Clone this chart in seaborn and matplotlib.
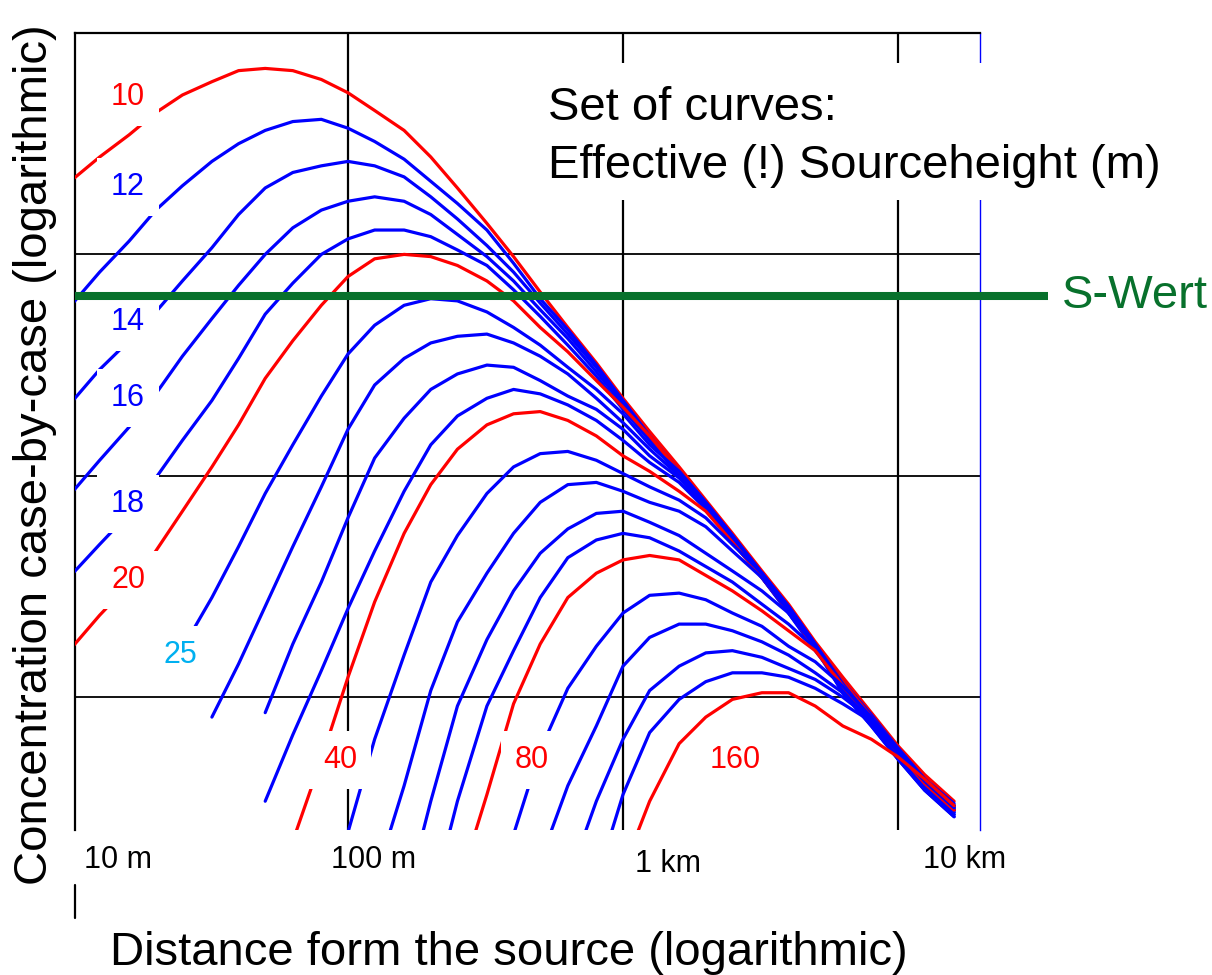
import numpy as np
import pandas as pd
import seaborn as sns
import matplotlib.pyplot as plt
import matplotlib.ticker as mticker
from matplotlib.patches import Rectangle

nan = np.nan

# distance from the source (m), common grid for all curves
dist_m = [10, 12.5, 16, 20, 25, 32, 40, 50, 63, 80, 100, 125, 160, 200, 250, 320,
          400, 500, 630, 800, 1000, 1250, 1600, 2000, 2500, 3200, 4000, 5000,
          6300, 8000, 10000, 12500, 16000]

# log10 concentration (arbitrary units), one list per source height
h10 = [2.34, 2.44, 2.54, 2.64, 2.72, 2.78, 2.83, 2.84, 2.83, 2.79, 2.73, 2.65, 2.56, 2.44, 2.30, 2.14,
       1.99, 1.83, 1.67, 1.51, 1.35, 1.20, 1.04, 0.89, 0.74, 0.57, 0.42, 0.25, 0.09, -0.07, -0.22, -0.35, -0.47]
h12 = [1.78, 1.92, 2.06, 2.20, 2.31, 2.42, 2.50, 2.56, 2.60, 2.61, 2.57, 2.51, 2.43, 2.33, 2.23, 2.11,
       1.96, 1.80, 1.66, 1.50, 1.34, 1.18, 1.02, 0.88, 0.73, 0.56, 0.40, 0.23, 0.07, -0.08, -0.23, -0.37, -0.49]
h14 = [1.34, 1.48, 1.61, 1.74, 1.88, 2.03, 2.18, 2.30, 2.37, 2.40, 2.42, 2.40, 2.35, 2.26, 2.16, 2.04,
       1.92, 1.78, 1.64, 1.49, 1.33, 1.17, 1.02, 0.87, 0.72, 0.55, 0.39, 0.23, 0.06, -0.09, -0.24, -0.38, -0.50]
h16 = [0.93, 1.07, 1.22, 1.37, 1.54, 1.71, 1.86, 2.00, 2.12, 2.20, 2.24, 2.26, 2.24, 2.18, 2.09, 1.99,
       1.88, 1.75, 1.62, 1.47, 1.32, 1.16, 1.01, 0.86, 0.71, 0.54, 0.38, 0.22, 0.05, -0.10, -0.25, -0.38, -0.51]
h18 = [0.56, 0.69, 0.83, 0.99, 1.16, 1.34, 1.53, 1.73, 1.87, 2.00, 2.07, 2.11, 2.11, 2.08, 2.02, 1.95,
       1.84, 1.72, 1.59, 1.45, 1.30, 1.16, 1.00, 0.85, 0.70, 0.54, 0.38, 0.21, 0.05, -0.10, -0.25, -0.39, -0.51]
h20 = [0.23, 0.37, 0.51, 0.66, 0.84, 1.04, 1.23, 1.44, 1.61, 1.77, 1.90, 1.98, 2.00, 1.99, 1.95, 1.88,
       1.79, 1.67, 1.56, 1.43, 1.31, 1.18, 1.02, 0.87, 0.72, 0.56, 0.40, 0.23, 0.07, -0.09, -0.23, -0.37, -0.49]
h22 = [nan, nan, nan, nan, 0.22, 0.45, 0.68, 0.92, 1.14, 1.36, 1.55, 1.68, 1.77, 1.80, 1.79, 1.74,
       1.67, 1.59, 1.49, 1.39, 1.28, 1.14, 1.02, 0.88, 0.73, 0.56, 0.41, 0.24, 0.06, -0.10, -0.24, -0.38, -0.50]
h25 = [nan, nan, nan, nan, nan, -0.09, 0.15, 0.41, 0.68, 0.95, 1.21, 1.41, 1.53, 1.60, 1.63, 1.64,
       1.60, 1.54, 1.46, 1.35, 1.24, 1.12, 1.00, 0.87, 0.72, 0.56, 0.40, 0.23, 0.05, -0.10, -0.25, -0.39, -0.51]
h30 = [nan, nan, nan, nan, nan, nan, nan, -0.07, 0.24, 0.52, 0.81, 1.08, 1.26, 1.39, 1.46, 1.50,
       1.49, 1.43, 1.36, 1.30, 1.21, 1.09, 0.99, 0.86, 0.71, 0.55, 0.40, 0.23, 0.04, -0.11, -0.26, -0.40, -0.52]
h35 = [nan, nan, nan, nan, nan, nan, nan, -0.47, -0.17, 0.12, 0.40, 0.66, 0.93, 1.14, 1.27, 1.35,
       1.39, 1.37, 1.32, 1.25, 1.16, 1.06, 0.97, 0.85, 0.71, 0.55, 0.39, 0.23, 0.03, -0.12, -0.27, -0.41, -0.53]
h40 = [nan, nan, nan, nan, nan, nan, nan, nan, -0.65, -0.28, 0.09, 0.43, 0.74, 0.96, 1.12, 1.23,
       1.28, 1.29, 1.25, 1.18, 1.09, 1.02, 0.93, 0.84, 0.70, 0.54, 0.39, 0.22, 0.05, -0.11, -0.26, -0.39, -0.51]
h45 = [nan, nan, nan, nan, nan, nan, nan, nan, nan, nan, -0.61, -0.19, 0.19, 0.52, 0.73, 0.92,
       1.04, 1.10, 1.11, 1.07, 1.01, 0.95, 0.89, 0.81, 0.69, 0.56, 0.41, 0.24, 0.04, -0.11, -0.26, -0.40, -0.52]
h50 = [nan, nan, nan, nan, nan, nan, nan, nan, nan, nan, nan, -0.83, -0.40, 0.03, 0.34, 0.56,
       0.74, 0.88, 0.96, 0.97, 0.93, 0.88, 0.84, 0.77, 0.66, 0.54, 0.39, 0.23, 0.03, -0.12, -0.27, -0.41, -0.53]
h60 = [nan, nan, nan, nan, nan, nan, nan, nan, nan, nan, nan, nan, -0.94, -0.47, -0.04, 0.26,
       0.48, 0.65, 0.76, 0.83, 0.84, 0.79, 0.73, 0.65, 0.57, 0.48, 0.38, 0.23, 0.02, -0.13, -0.28, -0.42, -0.54]
h70 = [nan, nan, nan, nan, nan, nan, nan, nan, nan, nan, nan, nan, nan, -0.94, -0.47, -0.04,
       0.21, 0.45, 0.63, 0.71, 0.74, 0.72, 0.66, 0.59, 0.52, 0.42, 0.33, 0.22, 0.02, -0.13, -0.28, -0.42, -0.54]
h80 = [nan, nan, nan, nan, nan, nan, nan, nan, nan, nan, nan, nan, nan, nan, -0.87, -0.44,
       -0.03, 0.24, 0.45, 0.56, 0.62, 0.64, 0.62, 0.55, 0.48, 0.39, 0.30, 0.21, 0.05, -0.10, -0.25, -0.39, -0.51]
h90 = [nan, nan, nan, nan, nan, nan, nan, nan, nan, nan, nan, nan, nan, nan, nan, -1.07,
       -0.62, -0.24, 0.04, 0.23, 0.38, 0.46, 0.47, 0.44, 0.38, 0.32, 0.23, 0.16, 0.05, -0.09, -0.23, -0.37, -0.48]
h100 = [nan, nan, nan, nan, nan, nan, nan, nan, nan, nan, nan, nan, nan, nan, nan, nan,
        -1.10, -0.74, -0.40, -0.13, 0.14, 0.27, 0.33, 0.33, 0.30, 0.25, 0.19, 0.11, 0.02, -0.10, -0.24, -0.37, -0.49]
h120 = [nan, nan, nan, nan, nan, nan, nan, nan, nan, nan, nan, nan, nan, nan, nan, nan,
        nan, -1.19, -0.83, -0.47, -0.19, 0.03, 0.14, 0.20, 0.21, 0.18, 0.13, 0.08, 0.00, -0.10, -0.24, -0.37, -0.49]
h140 = [nan, nan, nan, nan, nan, nan, nan, nan, nan, nan, nan, nan, nan, nan, nan, nan,
        nan, nan, -1.19, -0.83, -0.44, -0.16, -0.01, 0.07, 0.11, 0.11, 0.09, 0.04, -0.03, -0.11, -0.25, -0.38, -0.50]
h160 = [nan, nan, nan, nan, nan, nan, nan, nan, nan, nan, nan, nan, nan, nan, nan, nan,
        nan, nan, nan, nan, -0.78, -0.47, -0.21, -0.09, -0.01, 0.02, 0.02, -0.04, -0.13, -0.19, -0.27, -0.37, -0.49]

heights = [10, 12, 14, 16, 18, 20, 22, 25, 30, 35, 40, 45, 50, 60, 70, 80, 90, 100, 120, 140, 160]
curves = [h10, h12, h14, h16, h18, h20, h22, h25, h30, h35, h40, h45, h50, h60, h70, h80,
          h90, h100, h120, h140, h160]
red_heights = [10, 20, 40, 80, 160]

s_wert = 1.81  # log10 concentration of the limit line

# curve labels (axes fraction positions)
lab_text = ["10", "12", "14", "16", "18", "20", "25", "40", "80", "160"]
lab_x = [0.0586, 0.0586, 0.0586, 0.0586, 0.0586, 0.0586, 0.116, 0.2928, 0.505, 0.7293]
lab_y = [0.9197, 0.8068, 0.6374, 0.5420, 0.4090, 0.3137, 0.2196, 0.0878, 0.0878, 0.0878]
lab_col = ["#ff0000", "#0000ff", "#0000ff", "#0000ff", "#0000ff", "#ff0000", "#00b0f0",
           "#ff0000", "#ff0000", "#ff0000"]

tick_text = ["10 m", "100 m", "1 km", "10 km"]
tick_px = [118, 374, 668, 965]
tick_base = [868, 868, 872, 868]

green = "#08712c"

rows = []
for h, vals in zip(heights, curves):
    for d, v in zip(dist_m, vals):
        if not np.isnan(v):
            rows.append((d, v, h))
df = pd.DataFrame(rows, columns=["distance", "log_conc", "height"])
palette = {h: ("#ff0000" if h in red_heights else "#0000ff") for h in heights}

sns.set_theme(style="white")
plt.rcParams["font.family"] = ["Liberation Sans", "DejaVu Sans"]
plt.rcParams["text.color"] = "black"

fig = plt.figure(figsize=(12.12, 9.75), dpi=100)
ax = fig.add_axes([75 / 1212, 145 / 975, 905 / 1212, 797 / 975])

sns.lineplot(data=df, x="distance", y="log_conc", hue="height", hue_order=heights,
             palette=palette, estimator=None, linewidth=2.3, legend=False, ax=ax, zorder=3,
             solid_joinstyle="round", solid_capstyle="round")

ax.set_xscale("log")
ax.set_xlim(10.17, 19870)
ax.set_ylim(-0.6, 3.0)
ax.set_xticks([100, 1000, 10000])
ax.set_yticks([0, 1, 2])
ax.xaxis.set_minor_locator(mticker.NullLocator())
ax.tick_params(length=0, labelbottom=False, labelleft=False)
ax.set_axisbelow(True)
ax.xaxis.grid(True, color="black", lw=1.6)
ax.yaxis.grid(True, color="black", lw=1.3)
ax.set_xlabel("")
ax.set_ylabel("")

ax.spines["bottom"].set_visible(False)
for s in ["top", "left"]:
    ax.spines[s].set_color("black")
    ax.spines[s].set_linewidth(1.6)
ax.spines["right"].set_color("#0000ff")
ax.spines["right"].set_linewidth(1.0)
ax.plot([0, 0], [-0.069, -0.110], transform=ax.transAxes, color="black", lw=1.6, clip_on=False)

# curve labels on white boxes
for t, x, y, c in zip(lab_text, lab_x, lab_y, lab_col):
    ax.text(x, y, t, transform=ax.transAxes, color=c, fontsize=22, ha="center", va="center",
            zorder=5, bbox=dict(boxstyle="square,pad=0.45", fc="white", ec="none"))

# S-Wert limit line
ax.plot([0, 1.075], [s_wert, s_wert], transform=ax.get_yaxis_transform(), color=green,
        lw=5.8, solid_capstyle="butt", clip_on=False, zorder=6)
ax.text(1.0906, s_wert, "S-Wert", transform=ax.get_yaxis_transform(), color=green,
        fontsize=34, ha="left", va="center")

# title block
ax.add_patch(Rectangle((0.5138, 0.7905), 0.7072, 0.1719, transform=ax.transAxes,
                       fc="white", ec="none", clip_on=False, zorder=4))
ax.text(0.5227, 0.8908, "Set of curves:", transform=ax.transAxes, fontsize=34,
        color="black", ha="left", va="baseline", zorder=7)
ax.text(0.5227, 0.8181, "Effective (!) Sourceheight (m)", transform=ax.transAxes,
        fontsize=34, color="black", ha="left", va="baseline", zorder=7)

# axis texts
for t, px, pb in zip(tick_text, tick_px, tick_base):
    fig.text(px / 1212, 1 - pb / 975, t, fontsize=22, color="black", ha="center", va="baseline")
fig.text(35 / 1212, 1 - 455 / 975, "Concentration case-by-case (logarithmic)", rotation=90,
         fontsize=34, color="black", ha="center", va="center")
fig.text(509 / 1212, 1 - 965 / 975, "Distance form the source (logarithmic)", fontsize=34,
         color="black", ha="center", va="baseline")

fig.savefig("out.png", dpi=100)
